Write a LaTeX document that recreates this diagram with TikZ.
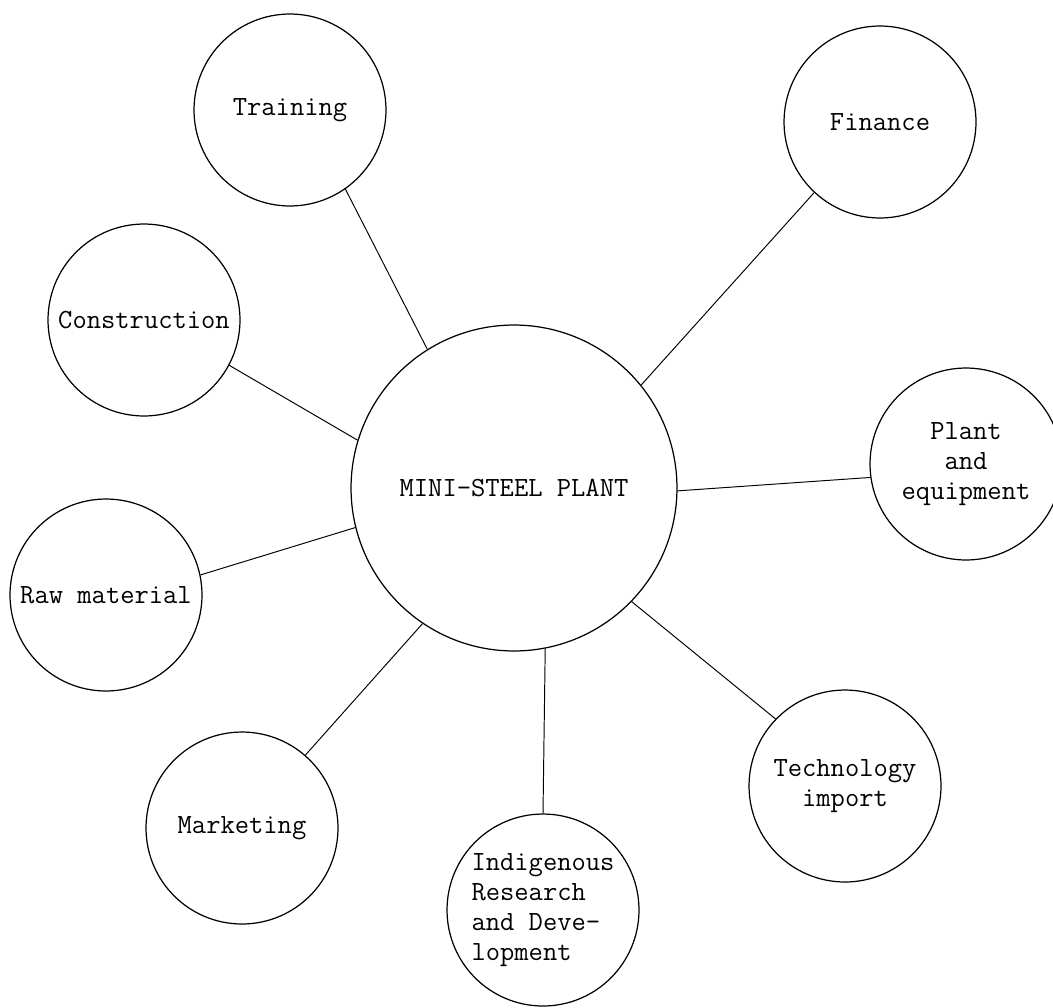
\documentclass[tikz,border=0pt]{standalone}
\usepackage{fontspec}
\begin{document}
\begin{tikzpicture}[x=.02cm,y=-.02cm,
bubble/.style={draw,circle,line width=.7pt,inner sep=0pt,minimum size=3.84cm,align=center,font=\fontsize{15.8}{17}\selectfont\ttfamily},
hub/.style={bubble,minimum size=6.52cm},
spoke/.style={line width=.55pt}]
\useasboundingbox (0,0) rectangle (1053,1007);
%centre
\node[hub] (mini) at (514,488) {MINI-STEEL PLANT};
%left side
\node[bubble] (training) at (290,110) {Training};
\node[bubble] (construction) at (144,320) {Construction};
\node[bubble] (rawmat) at (106,595) {Raw material};
\node[bubble] (marketing) at (242,828) {Marketing};
%bottom
\node[bubble,align=left] (research) at (543,910) {Indigenous\\Research\\and Deve-\\lopment};
%right side
\node[bubble] (techimport) at (845,786) {Technology\\import};
\node[bubble] (equipment) at (966,464) {Plant\\and\\equipment};
\node[bubble] (finance) at (880,122) {Finance};
%spokes
\foreach \n/\a/\b in {training/122/-55,construction/163/-28,rawmat/194/12,marketing/236/49,research/281/90,techimport/316/136,equipment/-1/188,finance/39/227}{
\draw[spoke] (mini.\a) -- (\n.\b);
}
\end{tikzpicture}
\end{document}
